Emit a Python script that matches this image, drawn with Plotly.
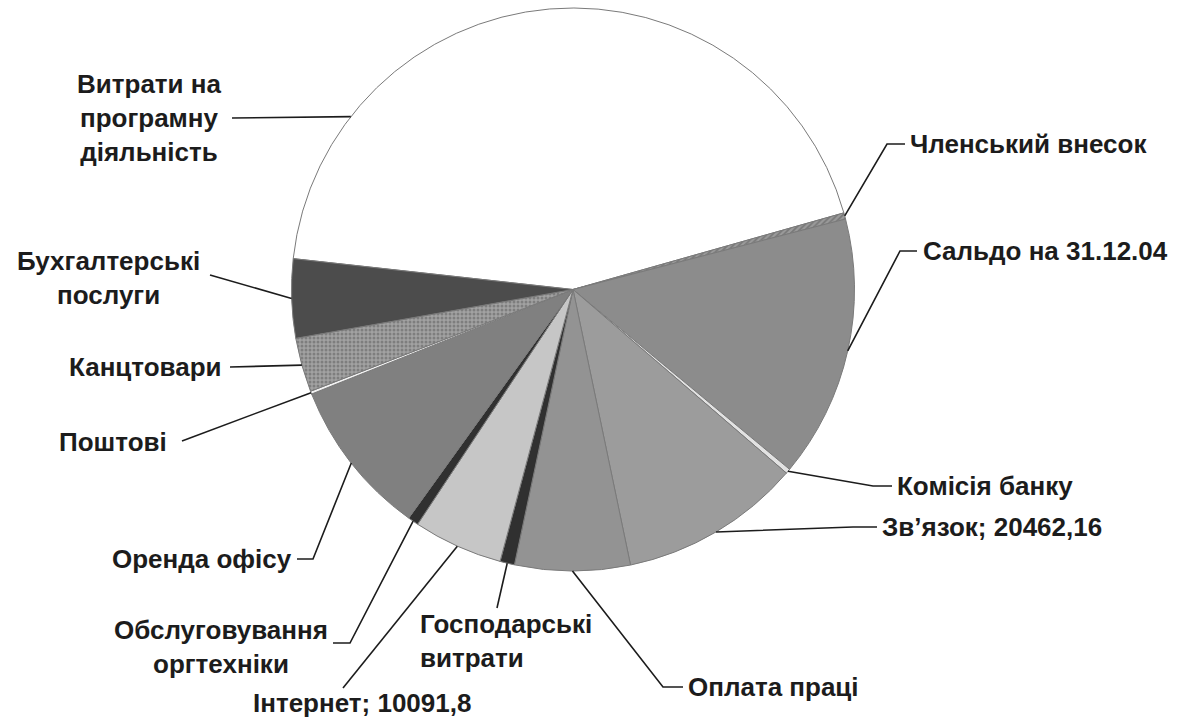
import math
import plotly.graph_objects as go

# ---- data ----
categories = [
    "Витрати на програмну діяльність", "Членський внесок", "Сальдо на 31.12.04",
    "Комісія банку", "Зв’язок", "Оплата праці", "Господарські витрати", "Інтернет",
    "Обслуговування оргтехніки", "Оренда офісу", "Поштові", "Канцтовари",
    "Бухгалтерські послуги",
]
values = [86160, 710, 29575, 545, 20462.16, 12990, 1640, 10091.8, 1200, 17730, 330, 6110, 8890]
label_lines = [
    "Витрати на<br>програмну<br>діяльність", "Членський внесок", "Сальдо на 31.12.04",
    "Комісія банку", "Зв’язок", "Оплата праці", "Господарські<br>витрати", "Інтернет",
    "Обслуговування<br>оргтехніки", "Оренда офісу", "Поштові", "Канцтовари",
    "Бухгалтерські<br>послуги",
]
show_value = [False, False, False, False, True, False, False, True, False, False, False, False, False]

# ---- style ----
colors = ["#ffffff", "#9a9a9a", "#8c8c8c", "#e2e2e2", "#9c9c9c", "#939393", "#303030",
          "#c6c6c6", "#303030", "#808080", "#f2f2f2", "#a2a2a2", "#4c4c4c"]
pat_shapes = ["", "/", "", "", "", "", "", "", "", "", "", ".", ""]
pat_fg = ["#555", "#555", "#555", "#555", "#555", "#555", "#555", "#555", "#555", "#555", "#555", "#5a5a5a", "#555"]
rotation = 276.3

W, H = 1177, 719
ML, MR, MT, MB = 0, 31, 8, 148
PW, PH = W - ML - MR, H - MT - MB
CX, CY = ML + PW / 2, MT + PH / 2
R = min(PW, PH) / 2


def px2paper(x, y):
    return (x - ML) / PW, (H - MB - y) / PH


# label placement (pixels): text anchor point, xanchor, line align, leader points from label end toward slice
label_pos = [
    (149, 118, "center", "center", [(232, 118)]),
    (908, 144, "left", "left", [(905, 144), (887, 144)]),
    (921, 251, "left", "left", [(917, 251), (900, 251)]),
    (895, 486, "left", "left", [(892, 486), (873, 486)]),
    (880, 527, "left", "left", [(877, 527), (853, 527)]),
    (686, 687, "left", "left", [(683, 687), (663, 687)]),
    (418, 641, "left", "left", [(497, 608)]),
    (362, 703, "center", "center", [(343, 688)]),
    (221, 647, "center", "center", [(333, 643), (350, 643)]),
    (294, 559, "right", "right", [(297, 559), (313, 559)]),
    (169, 442, "right", "right", [(182, 441)]),
    (224, 367, "right", "right", [(230, 367)]),
    (108, 278, "center", "center", [(210, 275)]),
]
anchor_frac = [0.2, 0.5, 0.5, 0.5, 0.5, 0.5, 0.5, 0.5, 0.5, 0.5, 0.5, 0.5, 0.5]

total = sum(values)
fig = go.Figure(go.Pie(
    labels=categories, values=values, sort=False, direction="clockwise",
    rotation=rotation, textinfo="none", hoverinfo="label+value",
    showlegend=False, domain=dict(x=[0, 1], y=[0, 1]),
    marker=dict(colors=colors, line=dict(color="#7a7a7a", width=1),
                pattern=dict(shape=pat_shapes, fgcolor=pat_fg, size=4, solidity=0.45,
                             fillmode="overlay")),
))

annotations = []
shapes = []
cum = 0.0
for i, v in enumerate(values):
    a0 = rotation + 360 * cum / total
    a1 = rotation + 360 * (cum + v) / total
    cum += v
    ang = math.radians(a0 + anchor_frac[i] * (a1 - a0))
    ax = CX + R * math.sin(ang)
    ay = CY - R * math.cos(ang)
    tx, ty, xa, al, pts = label_pos[i]
    text = label_lines[i]
    if show_value[i]:
        text += "; " + str(v).replace(".", ",")
    px, py = px2paper(tx, ty)
    annotations.append(dict(
        x=px, y=py, xref="paper", yref="paper", text=text, showarrow=False,
        xanchor=xa, yanchor="middle", align=al,
        font=dict(family="Liberation Sans, Arial, sans-serif", size=26, color="#1c1c1c", weight="bold"),
    ))
    path_pts = list(pts) + [(ax, ay)]
    d = ""
    for k, (qx, qy) in enumerate(path_pts):
        u, w = px2paper(qx, qy)
        d += ("M" if k == 0 else " L") + f"{u:.5f},{w:.5f}"
    shapes.append(dict(type="path", path=d, xref="paper", yref="paper",
                       line=dict(color="#1c1c1c", width=1.6)))

fig.update_layout(
    width=W, height=H, autosize=False,
    margin=dict(l=ML, r=MR, t=MT, b=MB),
    paper_bgcolor="white", plot_bgcolor="white",
    annotations=annotations, shapes=shapes,
)
fig.write_html("out.html", config={"displayModeBar": False},
               post_script="document.body.style.margin='0';document.body.style.overflow='hidden';")
